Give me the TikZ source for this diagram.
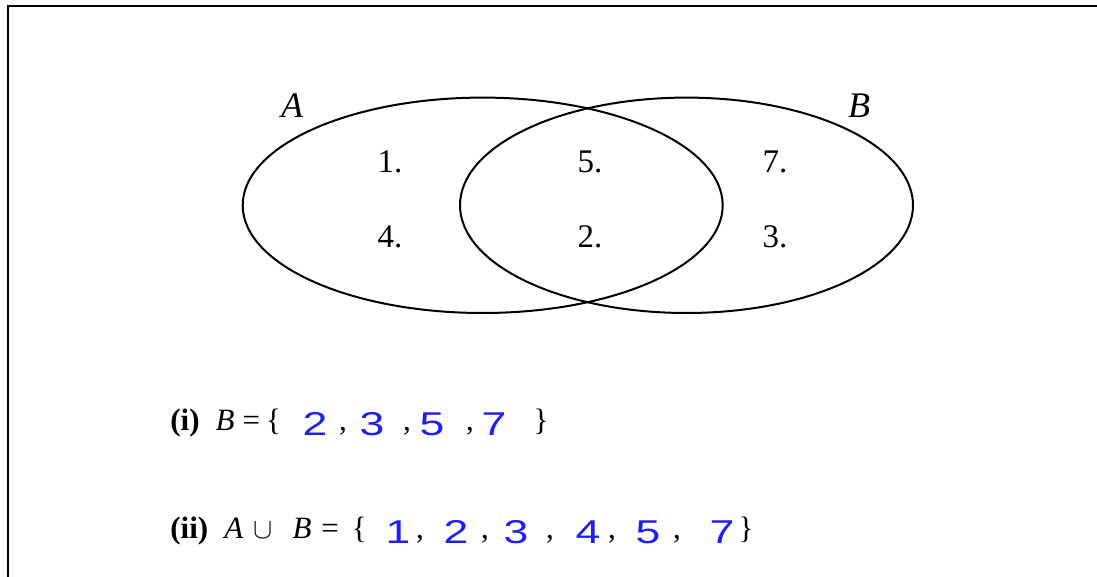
\documentclass[tikz,border=0pt]{standalone}
\usepackage{fontspec}
\usepackage{graphicx}
\setmainfont{Liberation Serif}
\newfontfamily\handfont{Liberation Sans}
\usetikzlibrary{positioning,shapes.geometric}
\definecolor{inkblue}{RGB}{30,30,245}
\newcommand\hand[1]{\scalebox{1.35}[1]{#1}}

\begin{document}
\begin{tikzpicture}[x=0.5pt,y=-0.5pt,
    set/.style={ellipse,draw,line width=1pt,inner sep=0pt,minimum height=107.7pt},
    elem/.style={font=\fontsize{16.5}{19}\selectfont},
    setname/.style={font=\fontsize{18}{21}\selectfont\itshape},
    line/.style={anchor=base west,inner sep=0pt,font=\fontsize{15.5}{18}\selectfont},
    ans/.style={anchor=base,inner sep=0pt,text=inkblue,font=\handfont\fontsize{16.5}{19}\selectfont},
    sep/.style={anchor=base,inner sep=0pt,font=\fontsize{15.5}{18}\selectfont}]
    \useasboundingbox (0,0) rectangle (1097,577);
    \draw[line width=1pt] (8,577) -- (8,6) -- (1097,6);

    % the two sets
    \node[set, minimum width=240pt] (setA) at (482.7,205.3) {};
    \node[set, minimum width=226.5pt] (setB) at (686.5,205.3) {};
    \node[setname] (nameA) at (292,106) {A};
    \node[setname] (nameB) at (859,106) {B};

    % elements
    \node[elem] (e1) at (390,162) {1.};
    \node[elem] (e5) [right of=e1, node distance=100pt] {5.};
    \node[elem] (e7) [right of=e5, node distance=92.5pt] {7.};
    \node[elem] (e4) [below of=e1, node distance=37.5pt] {4.};
    \node[elem] (e2) [right of=e4, node distance=100pt] {2.};
    \node[elem] (e3) [right of=e2, node distance=92.5pt] {3.};

    % (i)
    \node[line] (defB) at (170,430) {\textbf{(i)}\hspace{8pt}\textit{B}\hspace{4pt}=\hspace{3pt}\{};
    \foreach \d/\x in {2/315,3/372,5/432,7/494}
        \node[ans] (b\d) at (\x,435) {\hand{\d}};
    \foreach \x [count=\i] in {343,407,470}
        \node[sep] (bc\i) at (\x,430) {,};
    \node[sep] (bclose) at (541,430) {\}};

    % (ii)
    \node[line] (defU) at (170,538) {\textbf{(ii)}\hspace{8pt}\textit{A}\hspace{5pt}$\cup$\hspace{10pt}\textit{B}\hspace{5pt}=\hspace{6.5pt}\{};
    \foreach \d/\x in {1/398,2/456,3/516,4/588,5/648,7/722}
        \node[ans] (u\d) at (\x,543) {\hand{\d}};
    \foreach \x [count=\i] in {420,485,550,612,677}
        \node[sep] (uc\i) at (\x,538) {,};
    \node[sep] (uclose) at (746,538) {\}};
\end{tikzpicture}
\end{document}
